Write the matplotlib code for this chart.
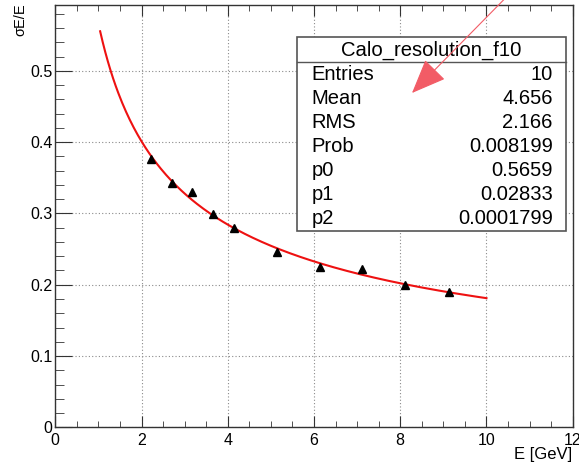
import numpy as np
import matplotlib
matplotlib.use("Agg")
from matplotlib import pyplot as plt
from matplotlib.patches import Rectangle, FancyArrowPatch
from matplotlib.lines import Line2D

plt.rcParams['font.family'] = ['Liberation Sans', 'DejaVu Sans']

# measured points
energy = [2.21, 2.70, 3.18, 3.66, 4.15, 5.14, 6.14, 7.12, 8.11, 9.13]
resolution = [0.377, 0.343, 0.330, 0.299, 0.279, 0.246, 0.225, 0.222, 0.199, 0.190]

# fit parameters from the stats box
p0 = 0.5659
p1 = 0.02833
p2 = 0.0001799
fit_range = (1.04, 10.0)

stat_names = ["Entries", "Mean", "RMS", "Prob", "p0", "p1", "p2"]
stat_values = ["10", "4.656", "2.166", "0.008199", "0.5659", "0.02833", "0.0001799"]

W, H = 579, 465
fig = plt.figure(figsize=(W / 100, H / 100), dpi=100)


def fx(px):
    return px / W


def fy(py):
    return 1 - py / H


ax = fig.add_axes([fx(55.3), fy(427.3), fx(572.7) - fx(55.3), fy(5) - fy(427.3)])

e_fit = np.linspace(fit_range[0], fit_range[1], 300)
sigma_fit = np.sqrt(p0**2 / e_fit + p1**2 + p2**2 / e_fit**2)
ax.plot(e_fit, sigma_fit, color="#ee1111", lw=1.5, zorder=3)
ax.plot(energy, resolution, linestyle="none", marker="^", color="black", ms=5.5, zorder=4)

ax.set_xlim(0, 12)
ax.set_ylim(0, 0.5925)
ax.set_xticks([0, 2, 4, 6, 8, 10, 12])
ax.set_xticks(np.arange(0, 12.01, 0.5), minor=True)
ax.set_yticks([0, 0.1, 0.2, 0.3, 0.4, 0.5])
ax.set_yticks(np.arange(0, 0.59, 0.02), minor=True)
ax.set_xticklabels(["0", "2", "4", "6", "8", "10", "12"])
ax.set_yticklabels(["0", "0.1", "0.2", "0.3", "0.4", "0.5"])

ax.grid(True, which="major", color="#8a8a8a", linestyle=(0, (1, 2)), lw=0.8)
ax.tick_params(axis="x", which="both", direction="in", top=True, bottom=True,
               labelsize=11.5, color="#333333", pad=4)
ax.tick_params(axis="x", which="major", length=8)
ax.tick_params(axis="x", which="minor", length=4.3)
ax.tick_params(axis="y", which="both", direction="in", left=True, right=False,
               labelsize=11.5, color="#333333", pad=2)
ax.tick_params(axis="y", which="major", length=12)
ax.tick_params(axis="y", which="minor", length=6.5)
for s in ax.spines.values():
    s.set_color("#333333")
    s.set_linewidth(1.0)

fig.text(fx(572), fy(454), "E [GeV]", ha="right", va="center", fontsize=12)
fig.text(fx(20), fy(3), "\u03c3E/E", ha="center", va="top", rotation=90, fontsize=10.5)

# stats box
bx0, bx1, by0, by1 = 297.3, 566.0, 37.3, 231.0
fig.add_artist(Rectangle((fx(bx0), fy(by1)), fx(bx1) - fx(bx0), fy(by0) - fy(by1),
                         transform=fig.transFigure, facecolor="white",
                         edgecolor="#555555", lw=1.2, zorder=5))
fig.add_artist(Line2D([fx(bx0), fx(bx1)], [fy(62.3), fy(62.3)], transform=fig.transFigure,
                      color="#555555", lw=1.0, zorder=6))
fig.text(fx((bx0 + bx1) / 2), fy(50), "Calo_resolution_f10", ha="center", va="center",
         fontsize=14.6, zorder=7)
for i, (name, val) in enumerate(zip(stat_names, stat_values)):
    yy = 75 + i * 23.9
    fig.text(fx(311.7), fy(yy), name, ha="left", va="center", fontsize=14.5, zorder=7)
    fig.text(fx(552.7), fy(yy), val, ha="right", va="center", fontsize=14.5, zorder=7)

# arrow on top of the box
arrow = FancyArrowPatch((fx(533), fy(-30)), (fx(412), fy(93)), transform=fig.transFigure,
                        arrowstyle="-|>,head_length=22,head_width=9", mutation_scale=1,
                        color="#f25c66", lw=0.8, shrinkA=0, shrinkB=0, zorder=8)
fig.add_artist(arrow)

fig.savefig("out.png", dpi=100)
